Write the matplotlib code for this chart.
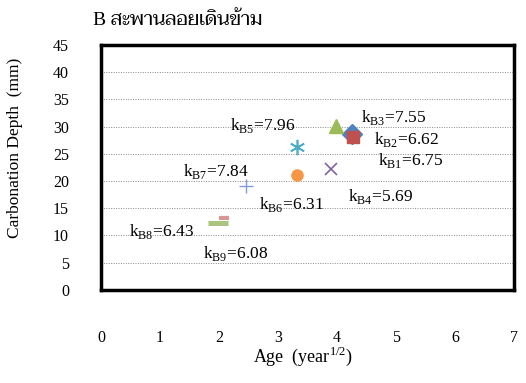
import matplotlib
matplotlib.use("Agg")
import matplotlib.pyplot as plt

# sqrt(age) and carbonation depth
labels = ["B1", "B2", "B3", "B4", "B5", "B6", "B7", "B8", "B9"]
age_sqrt = [4.26, 4.28, 3.99, 3.90, 3.33, 3.33, 2.46, 2.09, 1.99]
depth = [28.6, 28.1, 30.1, 22.2, 26.2, 21.1, 19.1, 13.2, 12.3]
k_values = ["6.75", "6.62", "7.55", "5.69", "7.96", "6.31", "7.84", "6.43", "6.08"]

# where the k labels sit (data coords, left edge)
label_x = [4.70, 4.62, 4.41, 4.18, 2.19, 2.68, 1.39, 0.48, 1.73]
label_y = [23.7, 27.7, 31.7, 17.1, 30.1, 15.6, 21.7, 10.8, 6.6]

y_ticks = [0, 5, 10, 15, 20, 25, 30, 35, 40, 45]
x_ticks = [0, 1, 2, 3, 4, 5, 6, 7]

markers = ["D", "s", "^", "x", (6, 2, 0), "o", "+", "_", "_"]
colors = ["#4f81bd", "#c0504d", "#9bbb59", "#8064a2", "#4bacc6",
          "#f79646", "#7f9fd8", "#d99694", "#a9c47f"]
sizes = [10, 8, 10, 8, 11, 8, 10, 7, 15]
widths = [1, 1, 1, 1.2, 1.2, 1, 1, 3, 3.6]

plt.rcParams['font.family'] = ['Liberation Serif', 'Taviraj']

fig = plt.figure(figsize=(5.26, 3.83), dpi=100)
ax = fig.add_axes([0.192, 0.243, 0.785, 0.640])

for i in range(len(labels)):
    ax.plot(age_sqrt[i], depth[i], linestyle='none', marker=markers[i],
            color=colors[i], markersize=sizes[i], markeredgewidth=widths[i],
            zorder=3 if i != 1 else 4)
    ax.text(label_x[i], label_y[i],
            r'k$_{\mathregular{' + labels[i] + '}}$=' + k_values[i],
            fontsize=12.5, va='center', ha='left')

ax.set_xlim(0, 7)
ax.set_ylim(0, 45)
ax.set_xticks(x_ticks)
ax.set_yticks(y_ticks)
ax.tick_params(length=0, labelsize=11.5)
ax.tick_params(axis='y', pad=23)
ax.tick_params(axis='x', pad=29)
for y in y_ticks[1:-1]:
    ax.axhline(y, color='#888888', linestyle=(0, (1, 1.5)), linewidth=0.7, zorder=1)
for s in ax.spines.values():
    s.set_linewidth(2.5)
    s.set_color('black')

ax.set_xlabel(r'Age  (year$^{\mathregular{1/2}}$)', fontsize=13)
ax.xaxis.set_label_coords(0.49, -0.225)
ax.set_ylabel('Carbonation Depth  (mm)', fontsize=12.5)
ax.yaxis.set_label_coords(-0.19, 0.58)
fig.text(0.177, 0.948, 'B สะพานลอยเดินข้าม', fontsize=14,
         va='center', ha='left')

fig.savefig("out.png")
